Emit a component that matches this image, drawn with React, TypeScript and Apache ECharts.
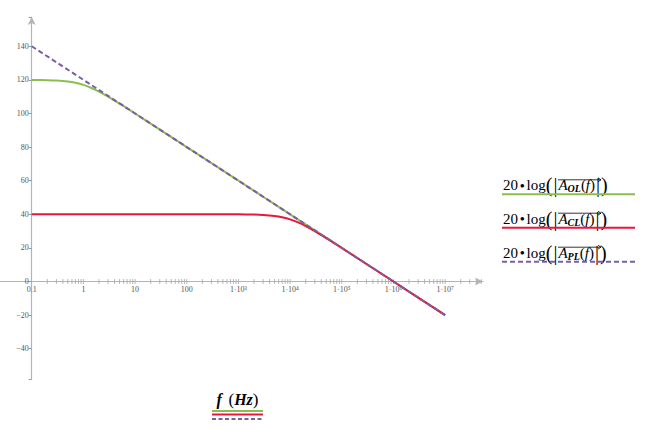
import React, { useEffect, useRef } from 'react';
import * as echarts from 'echarts';

// Frequency (Hz) and gain (dB)
const freqOL = [0.1, 0.2, 0.3, 0.5, 0.7, 1, 1.5, 2, 3, 5, 7, 10, 20, 100, 1e3, 1e4, 1e5, 1e6, 1e7];
const gainOL = [119.96, 119.83, 119.63, 119.03, 118.27, 116.99, 114.88, 113.01, 110, 105.85, 103.01, 99.96, 93.97, 80, 60, 40, 20, 0, -20];
const freqCL = [0.1, 1, 10, 100, 1e3, 2e3, 3e3, 5e3, 7e3, 1e4, 1.5e4, 2e4, 3e4, 5e4, 7e4, 1e5, 1e6, 1e7];
const gainCL = [40, 40, 40, 40, 39.96, 39.83, 39.63, 39.03, 38.27, 36.99, 34.88, 33.01, 30, 25.85, 23.01, 19.96, 0, -20];
const freqPL = [0.1, 1, 10, 100, 1e3, 1e4, 1e5, 1e6, 1e7];
const gainPL = [140, 120, 100, 80, 60, 40, 20, 0, -20];

const xTickDecades = [0.1, 1, 10, 100, 1e3, 1e4, 1e5, 1e6, 1e7];
const xTickLabels = ['0.1', '1', '10', '100', '1·10³', '1·10⁴', '1·10⁵', '1·10⁶', '1·10⁷'];
const xMinorSteps = [1, 2, 3, 4, 5, 6, 7, 8, 9];
const yTickValues = [-40, -20, 0, 20, 40, 60, 80, 100, 120, 140];
const yTickLabels = ['−40', '−20', '0', '20', '40', '60', '80', '100', '120', '140'];
const legendSubs = ['OL', 'CL', 'PL'];

const X_MIN = 0.0243;
const X_MAX = 5.4e7;
const Y_MIN = -58;
const Y_MAX = 157.4;

const GREEN = '#8cbd4e';
const RED = '#e8173c';
const PURPLE = '#7b5ea7';
const SERIF = '"Liberation Serif", "DejaVu Serif", serif';

export default function App() {
  const ref = useRef<HTMLDivElement>(null);

  useEffect(() => {
    document.body.style.margin = '0';
    if (!ref.current) return;
    const chart = echarts.init(ref.current, undefined, { renderer: 'svg' });

    const tickPoints: number[][] = [];
    xTickDecades.forEach((d) => {
      xMinorSteps.forEach((m) => {
        const v = d * m;
        if (v > 0.1 && v < X_MAX) tickPoints.push([v, 0]);
      });
    });

    const legendRich: any = {
      n: { fontFamily: SERIF, fontSize: 15, color: '#000' },
      d: { fontFamily: SERIF, fontSize: 13, fontWeight: 'bold', color: '#000', padding: [0, 2, 0, 2] },
      p: { fontFamily: SERIF, fontSize: 20, color: '#000' },
      b: { fontFamily: SERIF, fontSize: 20, color: '#000', padding: [0, 1, 0, 1] },
      a: { fontFamily: SERIF, fontSize: 15, fontStyle: 'italic', color: '#000' },
      s: { fontFamily: SERIF, fontSize: 10, fontStyle: 'italic', fontWeight: 'bold', color: '#000', padding: [7, 0, 0, 0] },
    };

    const legendColors = [GREEN, RED, PURPLE];
    const legendLineY = [194.3, 227.7, 261.7];
    const graphics: any[] = [];
    legendSubs.forEach((sub, i) => {
      const ly = legendLineY[i];
      graphics.push({
        type: 'text',
        x: 503,
        y: ly - 9,
        style: {
          text: `{n|20}{d|•}{n|log}{p|(}{b||}{a|A}{s|${sub}}{n|(}{a|f}{n|)}{b||}{p|)}`,
          rich: legendRich,
          align: 'left',
          verticalAlign: 'middle',
        },
      });
      graphics.push({
        type: 'line',
        shape: { x1: 558, y1: ly - 14.5, x2: 601, y2: ly - 14.5 },
        style: { stroke: '#000', lineWidth: 0.8 },
      });
      graphics.push({
        type: 'polyline',
        shape: { points: [[598, ly - 16.5], [601, ly - 14.5], [598, ly - 12.5]] },
        style: { stroke: '#000', lineWidth: 0.8, fill: 'none' },
      });
      graphics.push({
        type: 'line',
        shape: { x1: 502, y1: ly, x2: 635, y2: ly },
        style: { stroke: legendColors[i], lineWidth: 2, lineDash: i === 2 ? [5, 3] : null },
      });
    });

    graphics.push({
      type: 'text',
      x: 237.5,
      y: 399,
      style: {
        text: '{i|f}  {n|(}{h|Hz}{n|)}',
        rich: {
          i: { fontFamily: SERIF, fontSize: 16, fontStyle: 'italic', fontWeight: 'bold', color: '#000' },
          n: { fontFamily: SERIF, fontSize: 17, color: '#000' },
          h: { fontFamily: SERIF, fontSize: 16, fontStyle: 'italic', fontWeight: 'bold', color: '#1c2a9c' },
        },
        align: 'center',
        verticalAlign: 'middle',
      },
    });
    const botY = [411, 414.5, 419];
    botY.forEach((y, i) => {
      graphics.push({
        type: 'line',
        shape: { x1: 212, y1: y, x2: 263, y2: y },
        style: { stroke: legendColors[i], lineWidth: 2, lineDash: i === 2 ? [4, 2.5] : null },
      });
    });

    const option: any = {
      animation: false,
      backgroundColor: '#fff',
      grid: { left: 0, right: 175, top: 17, bottom: 55, containLabel: false },
      xAxis: {
        type: 'log',
        logBase: 10,
        min: X_MIN,
        max: X_MAX,
        splitNumber: 10,
        position: 'bottom',
        offset: -97.5,
        axisLine: {
          show: true,
          onZero: false,
          symbol: ['none', 'arrow'],
          symbolSize: [6, 8],
          lineStyle: { color: '#b4b4b4', width: 1.2 },
        },
        axisTick: { show: false },
        splitLine: { show: false },
        axisLabel: {
          show: true,
          margin: 4,
          fontSize: 8,
          lineHeight: 8,
          fontFamily: SERIF,
          color: '#555',
          showMinLabel: false,
          showMaxLabel: false,
          formatter: (v: number) => {
            const idx = xTickDecades.findIndex((d) => Math.abs(Math.log10(v) - Math.log10(d)) < 1e-6);
            return idx >= 0 ? xTickLabels[idx] : '';
          },
        },
      },
      yAxis: {
        type: 'value',
        min: Y_MIN,
        max: Y_MAX,
        splitNumber: 10,
        minInterval: 20,
        maxInterval: 20,
        offset: -31.7,
        axisLine: {
          show: true,
          onZero: false,
          symbol: ['none', 'arrow'],
          symbolSize: [6, 8],
          lineStyle: { color: '#b4b4b4', width: 1.2 },
        },
        axisTick: { show: true, length: 3, lineStyle: { color: '#999' } },
        splitLine: { show: false },
        axisLabel: {
          margin: 3,
          fontSize: 8,
          lineHeight: 7,
          fontFamily: SERIF,
          color: '#555',
          formatter: (v: number) => {
            const idx = yTickValues.findIndex((t) => Math.abs(t - v) < 1e-6);
            return idx >= 0 ? yTickLabels[idx] : '';
          },
        },
      },
      series: [
        {
          type: 'scatter',
          data: tickPoints,
          symbol: 'rect',
          symbolSize: [1, 5],
          itemStyle: { color: '#a8a8a8' },
          silent: true,
          z: 1,
        },
        {
          type: 'line',
          data: freqOL.map((f, i) => [f, gainOL[i]]),
          showSymbol: false,
          smooth: 0.3,
          lineStyle: { color: GREEN, width: 2 },
          z: 2,
        },
        {
          type: 'line',
          data: freqCL.map((f, i) => [f, gainCL[i]]),
          showSymbol: false,
          smooth: 0.3,
          lineStyle: { color: RED, width: 2 },
          z: 3,
        },
        {
          type: 'line',
          data: freqPL.map((f, i) => [f, gainPL[i]]),
          showSymbol: false,
          lineStyle: { color: PURPLE, width: 2, type: [5, 3] },
          z: 4,
        },
      ],
      graphic: graphics,
    };

    chart.setOption(option);
    return () => chart.dispose();
  }, []);

  return <div ref={ref} style={{ width: 658, height: 434 }} />;
}
